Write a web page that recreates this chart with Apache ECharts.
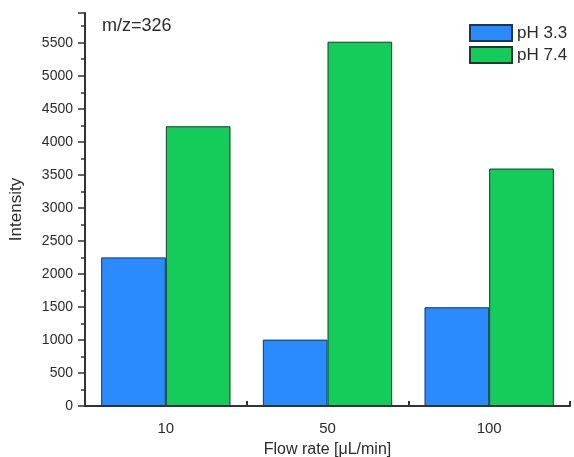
<!DOCTYPE html>
<html><head><meta charset="utf-8">
<script src="https://cdn.jsdelivr.net/npm/echarts@6/dist/echarts.min.js"></script>
<style>html,body{margin:0;padding:0;background:#fff}#c{width:574px;height:457px}</style>
</head><body><div id="c"></div>
<script>
const categories = ['10', '50', '100'];
const ph33 = [2250, 1005, 1495];
const ph74 = [4235, 5515, 3595];
const yTicks = [0, 500, 1000, 1500, 2000, 2500, 3000, 3500, 4000, 4500, 5000, 5500];

const chart = echarts.init(document.getElementById('c'));
const font = 'Liberation Sans, Arial, sans-serif';
const txt = '#2a2a2a';
chart.setOption({
  animation: false,
  textStyle: { fontFamily: font },
  grid: { left: 85, right: 4, top: 13, bottom: 51, outerBoundsMode: 'none', containLabel: false },
  legend: {
    left: 464, top: 19, orient: 'vertical', itemWidth: 42, itemHeight: 16, itemGap: 4,
    icon: 'rect',
    textStyle: { fontSize: 17, color: txt, fontFamily: font, padding: [0, 0, 0, 0] },
    data: ['pH 3.3', 'pH 7.4']
  },
  graphic: [{ type: 'text', left: 102, top: 17, style: { text: 'm/z=326', font: '18px ' + font, fill: txt } }],
  xAxis: [{
    type: 'category', data: categories, boundaryGap: true,
    name: 'Flow rate [\u03bcL/min]', nameLocation: 'middle', nameGap: 36,
    nameTextStyle: { fontSize: 16, color: txt, fontFamily: font },
    axisLine: { lineStyle: { color: '#333', width: 2 } },
    axisTick: { alignWithLabel: true, length: 6, lineStyle: { color: '#333', width: 2 } },
    axisLabel: { fontSize: 15, color: txt, margin: 15, fontFamily: font }
  }, {
    type: 'value', min: 0, max: 3, interval: 1, position: 'bottom',
    axisLine: { show: false }, axisLabel: { show: false }, splitLine: { show: false },
    axisTick: { show: true, inside: true, length: 5, lineStyle: { color: '#333', width: 2 } }
  }],
  yAxis: {
    type: 'value', min: 0, max: 5950, interval: 500,
    name: 'Intensity', nameLocation: 'middle', nameGap: 60,
    nameTextStyle: { fontSize: 17, color: txt, fontFamily: font },
    axisLine: { show: true, lineStyle: { color: '#333', width: 2 } },
    axisTick: { show: true, length: 7, lineStyle: { color: '#333', width: 1.5 } },
    minorTick: { show: true, splitNumber: 2, length: 4, lineStyle: { color: '#333', width: 1.5 } },
    axisLabel: { fontSize: 14, color: txt, margin: 12, showMaxLabel: false, fontFamily: font,
      formatter: v => yTicks.includes(v) ? String(v) : '' },
    splitLine: { show: false }
  },
  series: [
    { name: 'pH 3.3', type: 'bar', data: ph33, barGap: '0%', barCategoryGap: '20%',
      itemStyle: { color: '#2a8bff', borderColor: '#1d3550', borderWidth: 1 } },
    { name: 'pH 7.4', type: 'bar', data: ph74, barGap: '0%', barCategoryGap: '20%',
      itemStyle: { color: '#14cc5a', borderColor: '#1d3a2a', borderWidth: 1 } }
  ]
});
</script></body></html>
